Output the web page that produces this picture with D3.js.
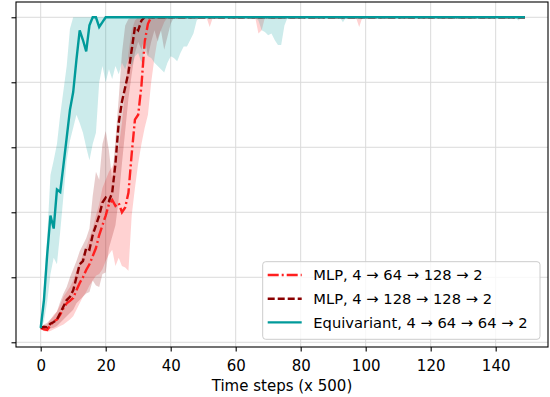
<!DOCTYPE html>
<html>
<head>
<meta charset="utf-8">
<script src="https://cdn.jsdelivr.net/npm/d3@7"></script>
<style>
  body { margin: 0; background: #fff; }
  svg text { font-family: "DejaVu Sans", sans-serif; fill: #000; }
</style>
</head>
<body>
<div id="chart"></div>
<script>
(function() {

  // ---- data (reward per evaluation point) ----
  var steps = d3.range(0, 150);
  var xTicks = [0, 20, 40, 60, 80, 100, 120, 140];
  var yTicks = [0, 40, 80, 120, 160, 200];
  var labels = ["MLP, 4 \u2192 64 \u2192 128 \u2192 2", "MLP, 4 \u2192 128 \u2192 128 \u2192 2", "Equivariant, 4 \u2192 64 \u2192 64 \u2192 2"];

  var mlp64Mean = [
    8.8,8,7.6,10.5,13,14,17,21,24,25.5,27.3,32,36.5,40,44.5,48,53,58,66,72,
    78,85,87.6,84,85.7,80,83,92,116,137,140,158,185,196,200,200,200,200,200,200,
    200,200,200,200,200,200,200,200,200,200,200,200,200,200,200,200,200,200,200,200,
    200,200,200,200,200,200,200,200,200,200,200,200,200,200,200,200,200,200,200,200,
    200,200,200,200,200,200,200,200,200,200,200,200,200,200,200,200,200,200,200,200,
    200,200,200,200,200,200,200,200,200,200,200,200,200,200,200,200,200,200,200,200,
    200,200,200,200,200,200,200,200,200,200,200,200,200,200,200,200,200,200,200,200,
    200,200,200,200,200,200,200,200,200,200];
  var mlp64Hi = [
    9,10,11,14,17,19,23,28,31,34,38,44,49,54,58,64,70,78,85,95,
    100,105,108,112,120,135,155,178,192,198,200,200,200,200,200,200,200,200,200,200,
    200,200,200,200,200,200,200,200,200,200,200,200,200,200,200,200,200,200,200,200,
    200,200,200,200,200,200,200,200,200,200,200,200,200,200,200,200,200,200,200,200,
    200,200,200,200,200,200,200,200,200,200,200,200,200,200,200,200,200,200,200,200,
    200,200,200,200,200,200,200,200,200,200,200,200,200,200,200,200,200,200,200,200,
    200,200,200,200,200,200,200,200,200,200,200,200,200,200,200,200,200,200,200,200,
    200,200,200,200,200,200,200,200,200,200];
  var mlp64Lo = [
    8,7,6.5,7,8,9,10,11,12.5,14,16,20,24,28,31,35,38,41,42,45,
    50,54,57,47,52,47,46,44,78,95,110,122,132,140,160,175,187,192,197,200,
    200,200,200,200,200,200,200,200,200,200,200,200,194,200,200,200,200,200,200,200,
    200,200,200,200,200,200,200,190,192,200,200,200,200,200,200,200,200,200,200,200,
    200,200,200,200,200,200,200,200,200,200,200,200,200,200,200,200,200,200,194,200,
    200,200,200,200,200,200,200,200,200,200,200,200,200,200,200,200,200,200,200,200,
    200,200,200,200,200,200,200,200,200,200,200,200,200,200,200,200,200,200,200,200,
    200,200,200,200,200,200,200,200,200,200];

  var mlp128Mean = [
    8.8,9.5,9.2,11.5,12.5,14,18,22,26,28,32,40,48,50,58,57,66,72,78,86,
    89,87,92,110,135,148,157,166,180,194,192,198,200,200,200,200,200,200,200,200,
    200,200,200,200,200,200,200,200,200,200,200,200,200,200,200,200,200,200,200,200,
    200,200,200,200,200,200,200,200,200,200,200,200,200,200,200,200,200,200,200,200,
    200,200,200,200,200,200,200,200,200,200,200,200,200,200,200,200,200,200,200,200,
    200,200,200,200,200,200,200,200,200,200,200,200,200,200,200,200,200,200,200,200,
    200,200,200,200,200,200,200,200,200,200,200,200,200,200,200,200,200,200,200,200,
    200,200,200,200,200,200,200,200,200,200];
  var mlp128Hi = [
    9,11,12,14,16,19,25,30,34,40,45,50,56,60,64,70,90,105,100,122,
    130,118,100,125,150,178,195,199,200,200,200,200,200,200,200,200,200,200,200,200,
    200,200,200,200,200,200,200,200,200,200,200,200,200,200,200,200,200,200,200,200,
    200,200,200,200,200,200,200,200,200,200,200,200,200,200,200,200,200,200,200,200,
    200,200,200,200,200,200,200,200,200,200,200,200,200,200,200,200,200,200,200,200,
    200,200,200,200,200,200,200,200,200,200,200,200,200,200,200,200,200,200,200,200,
    200,200,200,200,200,200,200,200,200,200,200,200,200,200,200,200,200,200,200,200,
    200,200,200,200,200,200,200,200,200,200];
  var mlp128Lo = [
    8,8,7,8.5,9,10,12,14,16,18,20,24,26,28,30,31,38,35,34,42,
    43,58,65,72,88,110,130,150,165,178,185,180,188,176,185,192,185,192,180,188,
    196,200,200,200,200,200,200,200,200,200,200,200,200,200,200,200,200,200,200,200,
    200,200,200,200,200,200,200,200,200,200,200,200,200,200,200,200,200,200,200,200,
    200,200,200,200,200,200,200,200,200,200,200,200,200,200,200,200,200,200,200,200,
    200,200,200,200,200,200,200,200,200,200,200,200,200,200,200,200,200,200,200,200,
    200,200,200,200,200,200,200,200,200,200,200,200,200,200,200,200,200,200,200,200,
    200,200,200,200,200,200,200,200,200,200];

  var equivMean = [
    8.8,26,54,78,70,94,92.5,109,126,143,154,174,192,186,179,195,200,200,194,197,
    200,200,200,200,200,200,200,200,200,200,200,200,200,200,200,200,200,200,200,200,
    200,200,200,200,200,200,200,200,200,200,200,200,200,200,200,200,200,200,200,200,
    200,200,200,200,200,200,200,200,200,200,200,200,200,200,200,200,200,200,200,200,
    200,200,200,200,200,200,200,200,200,200,200,200,200,200,200,200,200,200,200,200,
    200,200,200,200,200,200,200,200,200,200,200,200,200,200,200,200,200,200,200,200,
    200,200,200,200,200,200,200,200,200,200,200,200,200,200,200,200,200,200,200,200,
    200,200,200,200,200,200,200,200,200,200];
  var equivHi = [
    9,35,65,103,112,122,140,155,170,193,200,200,200,200,200,200,200,200,200,200,
    200,200,200,200,200,200,200,200,200,200,200,200,200,200,200,200,200,200,200,200,
    200,200,200,200,200,200,200,200,200,200,200,200,200,200,200,200,200,200,200,200,
    200,200,200,200,200,200,200,200,200,200,200,200,200,200,200,200,200,200,200,200,
    200,200,200,200,200,200,200,200,200,200,200,200,200,200,200,200,200,200,200,200,
    200,200,200,200,200,200,200,200,200,200,200,200,200,200,200,200,200,200,200,200,
    200,200,200,200,200,200,200,200,200,200,200,200,200,200,200,200,200,200,200,200,
    200,200,200,200,200,200,200,200,200,200];
  var equivLo = [
    8,13,25,42,52,48,68,90,112,124,132,140,135,129,120,112,122,129,160,170,
    160,168,162,170,165,172,168,175,170,176,178,172,180,176,175,172,170,168,166,172,
    176,175,173,178,182,182,186,190,198,200,200,200,200,200,200,200,200,200,200,200,
    200,200,200,200,200,200,200,198,192,191,189,190,186,183,183,195,200,200,200,200,
    200,200,200,200,200,200,200,200,200,200,200,200,200,197,200,200,200,200,200,200,
    200,200,200,200,200,200,200,200,200,200,200,200,200,200,200,200,200,200,200,200,
    200,200,200,200,200,200,200,200,200,200,200,200,200,200,200,200,200,200,200,200,
    200,200,200,200,200,200,200,198,200,200];

  var series = [
    { name: labels[0], mean: mlp64Mean, lo: mlp64Lo, hi: mlp64Hi, color: "#ff1f1f", dash: "11,3,2,3" },
    { name: labels[1], mean: mlp128Mean, lo: mlp128Lo, hi: mlp128Hi, color: "#8b0000", dash: "7,3" },
    { name: labels[2], mean: equivMean, lo: equivLo, hi: equivHi, color: "#009a9a", dash: null }
  ];

  var margin = { top: 2, left: 16, right: 2, bottom: 50 },
  width = 550 - margin.left - margin.right,
  height = 397 - margin.top - margin.bottom;

  var svg = d3.select("#chart")
    .append("svg")
    .attr("width", 550)
    .attr("height", 397)
    .append("g")
    .attr("transform", "translate(" + margin.left + "," + margin.top + ")");

  var xScale = d3.scaleLinear().domain([-7.6, 156.1]).range([0, width]);
  var yScale = d3.scaleLinear().domain([-2.9, 209.4]).range([height, 0]);

  // grid
  svg.selectAll(".vgrid").data(xTicks).enter().append("line")
    .attr("x1", d => xScale(d)).attr("x2", d => xScale(d))
    .attr("y1", 0).attr("y2", height)
    .attr("stroke", "#dadada").attr("stroke-width", 1);
  svg.selectAll(".hgrid").data(yTicks).enter().append("line")
    .attr("y1", d => yScale(d)).attr("y2", d => yScale(d))
    .attr("x1", 0).attr("x2", width)
    .attr("stroke", "#dadada").attr("stroke-width", 1);

  svg.append("clipPath").attr("id", "clip")
    .append("rect").attr("width", width).attr("height", height);
  var plot = svg.append("g").attr("clip-path", "url(#clip)");

  series.forEach(function(s) {
    var area = d3.area()
      .x(t => xScale(t))
      .y0(t => yScale(s.lo[t]))
      .y1(t => yScale(s.hi[t]));
    plot.append("path")
      .datum(steps)
      .attr("d", area)
      .attr("fill", s.color)
      .attr("fill-opacity", 0.2);
  });

  series.forEach(function(s) {
    var line = d3.line()
      .x(t => xScale(t))
      .y(t => yScale(s.mean[t]));
    plot.append("path")
      .datum(steps)
      .attr("d", line)
      .attr("fill", "none")
      .attr("stroke", s.color)
      .attr("stroke-width", 2.4)
      .attr("stroke-dasharray", s.dash);
  });

  // axes
  var xAxis = svg.append("g")
    .attr("transform", "translate(0," + height + ")")
    .call(d3.axisBottom(xScale).tickValues(xTicks).tickSize(4.5).tickPadding(9.3).tickSizeOuter(0));
  xAxis.select(".domain").remove();
  xAxis.selectAll("text").style("font-size", "15px");
  xAxis.selectAll("line").attr("stroke", "#000").attr("stroke-width", 1.1);

  var yAxis = svg.append("g")
    .call(d3.axisLeft(yScale).tickValues(yTicks).tickSize(4.5).tickFormat("").tickSizeOuter(0));
  yAxis.select(".domain").remove();
  yAxis.selectAll("line").attr("stroke", "#000").attr("stroke-width", 1.1);

  svg.append("rect")
    .attr("width", width).attr("height", height)
    .attr("fill", "none").attr("stroke", "#000").attr("stroke-width", 1.1);

  svg.append("text")
    .attr("x", width / 2).attr("y", 389)
    .attr("text-anchor", "middle")
    .style("font-size", "15px")
    .text("Time steps (x 500)");

  // legend
  var legend = svg.append("g").attr("transform", "translate(" + (262.7 - margin.left) + "," + (261.7 - margin.top) + ")");
  legend.append("rect")
    .attr("width", 277.3).attr("height", 77.6).attr("rx", 3)
    .attr("fill", "#fff").attr("fill-opacity", 0.8)
    .attr("stroke", "#cccccc").attr("stroke-width", 1);
  series.forEach(function(s, i) {
    var cy = 13.3 + i * 23.7;
    legend.append("line")
      .attr("x1", 5).attr("x2", 39)
      .attr("y1", cy).attr("y2", cy)
      .attr("stroke", s.color).attr("stroke-width", 2.4)
      .attr("stroke-dasharray", s.dash);
    legend.append("text")
      .attr("x", 50.6).attr("y", cy).attr("dy", "0.36em")
      .style("font-size", "14.7px")
      .text(s.name);
  });

})();
</script>
</body>
</html>
